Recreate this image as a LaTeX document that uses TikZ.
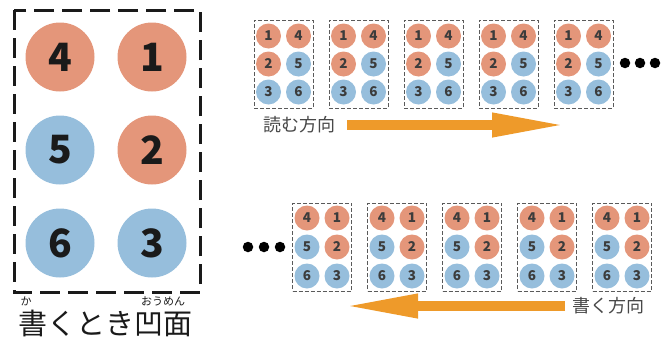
\documentclass[tikz,border=0pt]{standalone}
\usepackage{fontspec}
\setsansfont{Noto Sans CJK JP}
\newfontfamily\jp{Noto Sans CJK JP}
\usetikzlibrary{arrows.meta,positioning}
\definecolor{ink}{HTML}{1A1A1A}
\definecolor{muted}{HTML}{5A5A5A}
\definecolor{salmon}{HTML}{E4967A}
\definecolor{sky}{HTML}{96BEDC}
\definecolor{flow}{HTML}{EE9A2A}
\tikzset{
  bigdot/.style={circle,inner sep=0pt,minimum size=69pt,font=\sffamily\bfseries\fontsize{39}{39}\selectfont,text=ink},
  bigdotr/.style={bigdot,fill=salmon},
  bigdotb/.style={bigdot,fill=sky},
  sdot/.style={circle,inner sep=0pt,minimum size=25pt,font=\sffamily\bfseries\fontsize{13.5}{13.5}\selectfont,text=ink!85},
  sdotr/.style={sdot,fill=salmon},
  sdotb/.style={sdot,fill=sky},
  bigcell/.style={draw=ink,line width=3pt,dash pattern=on 20pt off 8pt},
  cell/.style={draw=muted,line width=1pt,dash pattern=on 4pt off 2pt,minimum width=59pt,minimum height=88pt,inner sep=0pt},
  ell/.style={circle,fill=black,minimum size=10.5pt,inner sep=0pt},
  flowar/.style={draw=flow,line width=10pt,-{Triangle[length=75pt,width=22pt]}},
  lbl/.style={font=\jp\fontsize{18}{18}\selectfont,text=ink!80},
  ruby/.style={font=\jp\fontsize{11}{11}\selectfont,text=ink},
}
\begin{document}
\begin{tikzpicture}[x=1pt,y=-1pt]
  \useasboundingbox (0,0) rectangle (669,343);
  % large cell, seen from the writing side
  \draw[bigcell] (14,10) rectangle (200,292);
  \node[bigdotr] (b4) at (60,57) {4};  \node[bigdotr] (b1) at (152,57) {1};
  \node[bigdotb] (b5) at (60,150) {5}; \node[bigdotr] (b2) at (152,150) {2};
  \node[bigdotb] (b6) at (60,243) {6}; \node[bigdotb] (b3) at (152,243) {3};
  \node[font=\jp\fontsize{29}{29}\selectfont,text=ink] (cap) at (105,323) {書くとき凹面};
  \node[ruby] (rk) at (26,301) {か};
  \node[ruby] (ro) at (163,301) {おうめん};

  % reading row
  \foreach \i in {0,...,4} {
    \pgfmathsetmacro\cx{283.5+75*\i}
    \node[cell] (t\i) at (\cx,64) {};
    \node[sdotr] at (\cx-15,36) {1}; \node[sdotr] at (\cx+15,36) {4};
    \node[sdotr] at (\cx-15,64) {2}; \node[sdotb] at (\cx+15,64) {5};
    \node[sdotb] at (\cx-15,92) {3}; \node[sdotb] at (\cx+15,92) {6};
  }
  \node[ell] (e1) at (625,63) {}; \node[ell] (e2) at (640,63) {}; \node[ell] (e3) at (655,63) {};
  \node[lbl] (rd) at (299,125) {読む方向};
  \coordinate (ra) at (347,125); \coordinate (rb) at (567,125);
  \draw[flowar] (ra) -- (rb);

  % writing row
  \foreach \i in {0,...,4} {
    \pgfmathsetmacro\cx{322+75*\i}
    \node[cell] (u\i) at (\cx,247) {};
    \node[sdotr] at (\cx-15,218) {4}; \node[sdotr] at (\cx+15,218) {1};
    \node[sdotb] at (\cx-15,247) {5}; \node[sdotr] at (\cx+15,247) {2};
    \node[sdotb] at (\cx-15,276) {6}; \node[sdotb] at (\cx+15,276) {3};
  }
  \node[ell] (f1) at (248,247) {}; \node[ell] (f2) at (264,247) {}; \node[ell] (f3) at (280,247) {};
  \node[lbl] (wr) at (608,306) {書く方向};
  \coordinate (wa) at (565,306); \coordinate (wb) at (343,306);
  \draw[flowar] (wa) -- (wb);
\end{tikzpicture}
\end{document}
